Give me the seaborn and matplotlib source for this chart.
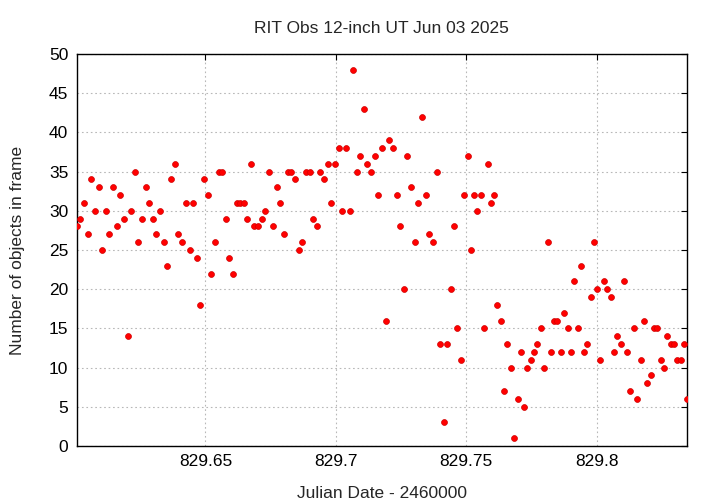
import matplotlib
matplotlib.use("Agg")
import matplotlib.pyplot as plt
import seaborn as sns
import pandas as pd

jd = [829.6006, 829.6020, 829.6034, 829.6048, 829.6062, 829.6077, 829.6090, 829.6105, 829.6119, 829.6131,
      829.6146, 829.6159, 829.6174, 829.6188, 829.6201, 829.6215, 829.6229, 829.6243, 829.6257, 829.6271,
      829.6285, 829.6299, 829.6312, 829.6326, 829.6340, 829.6354, 829.6368, 829.6382, 829.6396, 829.6411,
      829.6424, 829.6439, 829.6453, 829.6467, 829.6480, 829.6493, 829.6508, 829.6522, 829.6536, 829.6550,
      829.6564, 829.6578, 829.6592, 829.6606, 829.6620, 829.6633, 829.6647, 829.6661, 829.6674, 829.6688,
      829.6702, 829.6716, 829.6730, 829.6745, 829.6758, 829.6773, 829.6787, 829.6801, 829.6815, 829.6829,
      829.6843, 829.6857, 829.6871, 829.6885, 829.6899, 829.6913, 829.6926, 829.6940, 829.6954, 829.6968,
      829.6983, 829.6996, 829.7011, 829.7025, 829.7039, 829.7053, 829.7066, 829.7080, 829.7094, 829.7107,
      829.7121, 829.7135, 829.7149, 829.7163, 829.7177, 829.7191, 829.7205, 829.7219, 829.7233, 829.7246,
      829.7260, 829.7274, 829.7288, 829.7302, 829.7317, 829.7330, 829.7345, 829.7359, 829.7373, 829.7387,
      829.7401, 829.7415, 829.7428, 829.7441, 829.7453, 829.7466, 829.7479, 829.7492, 829.7505, 829.7517,
      829.7530, 829.7543, 829.7556, 829.7568, 829.7582, 829.7594, 829.7607, 829.7620, 829.7633, 829.7645,
      829.7658, 829.7671, 829.7684, 829.7697, 829.7709, 829.7722, 829.7735, 829.7748, 829.7760, 829.7773,
      829.7786, 829.7799, 829.7812, 829.7825, 829.7837, 829.7850, 829.7863, 829.7876, 829.7889, 829.7901,
      829.7914, 829.7927, 829.7940, 829.7952, 829.7965, 829.7977, 829.7990, 829.8002, 829.8015, 829.8028,
      829.8041, 829.8054, 829.8066, 829.8079, 829.8092, 829.8105, 829.8117, 829.8130, 829.8143, 829.8156,
      829.8169, 829.8182, 829.8194, 829.8207, 829.8220, 829.8233, 829.8246, 829.8258, 829.8271, 829.8284,
      829.8297, 829.8309, 829.8322, 829.8335, 829.8348]

nobj = [28, 29, 31, 27, 34, 30, 33, 25, 30, 27,
        33, 28, 32, 29, 14, 30, 35, 26, 29, 33,
        31, 29, 27, 30, 26, 23, 34, 36, 27, 26,
        31, 25, 31, 24, 18, 34, 32, 22, 26, 35,
        35, 29, 24, 22, 31, 31, 31, 29, 36, 28,
        28, 29, 30, 35, 28, 33, 31, 27, 35, 35,
        34, 25, 26, 35, 35, 29, 28, 35, 34, 36,
        31, 36, 38, 30, 38, 30, 48, 35, 37, 43,
        36, 35, 37, 32, 38, 16, 39, 38, 32, 28,
        20, 37, 33, 26, 31, 42, 32, 27, 26, 35,
        13, 3, 13, 20, 28, 15, 11, 32, 37, 25,
        32, 30, 32, 15, 36, 31, 32, 18, 16, 7,
        13, 10, 1, 6, 12, 5, 10, 11, 12, 13,
        15, 10, 26, 12, 16, 16, 12, 17, 15, 12,
        21, 15, 23, 12, 13, 19, 26, 20, 11, 21,
        20, 19, 12, 14, 13, 21, 12, 7, 15, 6,
        11, 16, 8, 9, 15, 15, 11, 10, 14, 13,
        13, 11, 11, 13, 6]

xticks = [829.65, 829.7, 829.75, 829.8]
xticklabels = ["829.65", "829.7", "829.75", "829.8"]
yticks = [0, 5, 10, 15, 20, 25, 30, 35, 40, 45, 50]

title = "RIT Obs 12-inch UT Jun 03 2025"
xlabel = "Julian Date - 2460000"
ylabel = "Number of objects in frame"

sns.set_style("white")
plt.rcParams['font.family'] = ['Liberation Sans', 'DejaVu Sans']

df = pd.DataFrame({"jd": jd, "n": nobj})

fig = plt.figure(figsize=(7.2, 5.04), dpi=100)
ax = fig.add_axes([0.1065, 0.1151, 0.8481, 0.7778])

sns.scatterplot(data=df, x="jd", y="n", ax=ax, color="#ff0000", s=18,
                edgecolor="#d00000", linewidth=0.5, zorder=3)

ax.set_xlim(min(jd), max(jd))
ax.set_ylim(0, 50)
ax.set_xticks(xticks)
ax.set_xticklabels(xticklabels)
ax.set_yticks(yticks)
ax.tick_params(direction="in", length=4.5, width=0.8, top=True, right=True,
               labelsize=12.5, colors="black", pad=6)
ax.grid(True, linestyle=(0, (1.5, 2.5)), color="#b8b8b8", linewidth=0.8, zorder=0)
for sp in ax.spines.values():
    sp.set_color("black")
    sp.set_linewidth(1.0)
    sp.set_visible(True)

ax.set_xlabel(xlabel, fontsize=12.5, labelpad=12)
ax.set_ylabel(ylabel, fontsize=12.5, labelpad=17)
fig.text(0.53, 0.943, title, ha="center", va="center", fontsize=12.5)

fig.savefig("out.png", dpi=100)
